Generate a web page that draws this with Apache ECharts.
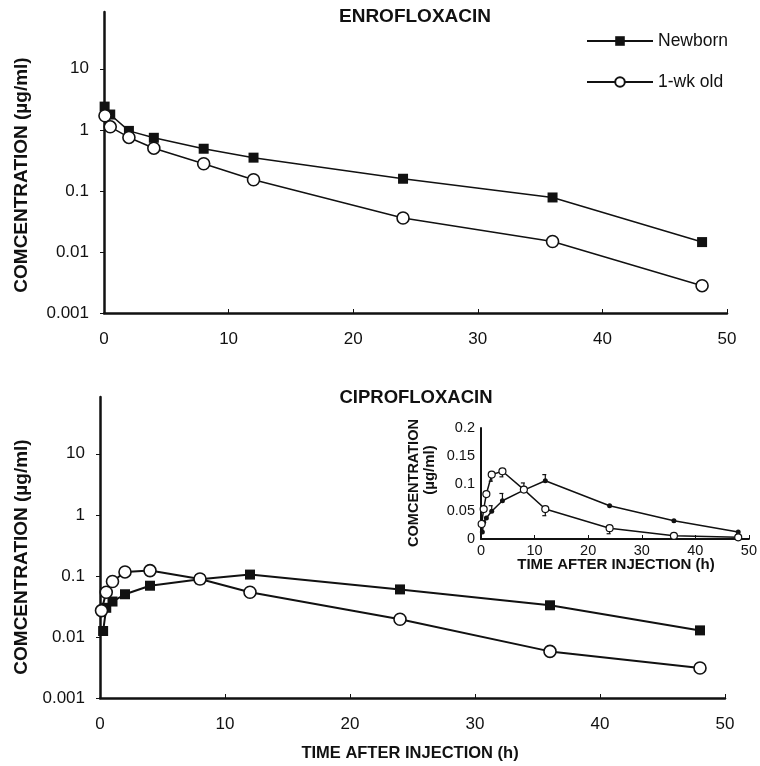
<!DOCTYPE html>
<html>
<head>
<meta charset="utf-8">
<script src="https://cdn.jsdelivr.net/npm/echarts@6/dist/echarts.min.js"></script>
<style>html,body{margin:0;padding:0;background:#fff}#c{width:760px;height:766px}</style>
</head>
<body>
<div id="c"></div>
<script>
// ---- data ----
var enroTimeNewborn = [0.05, 0.5, 2, 4, 8, 12, 24, 36, 48];
var enroNewborn     = [2.4, 1.78, 0.96, 0.74, 0.49, 0.35, 0.158, 0.078, 0.0145];
var enroTimeWeek    = [0.08, 0.5, 2, 4, 8, 12, 24, 36, 48];
var enroWeek        = [1.7, 1.12, 0.75, 0.5, 0.278, 0.152, 0.036, 0.0148, 0.0028];

var ciproTimeNewborn = [0.25, 0.5, 1, 2, 4, 8, 12, 24, 36, 48];
var ciproNewborn     = [0.0125, 0.03, 0.038, 0.05, 0.069, 0.088, 0.105, 0.06, 0.033, 0.0128];
var ciproTimeWeek    = [0.12, 0.5, 1, 2, 4, 8, 12, 24, 36, 48];
var ciproWeek        = [0.027, 0.054, 0.081, 0.116, 0.122, 0.089, 0.054, 0.0195, 0.0058, 0.0031];

// inset error bars (SD): newborn upward, 1-wk downward
var errTimeNewborn = [2, 4, 8, 12];
var errNewborn     = [0.010, 0.013, 0.013, 0.011];
var errTimeWeek    = [2, 4, 12, 24];
var errWeek        = [0.012, 0.010, 0.012, 0.010];

var logTickValues = [0.001, 0.01, 0.1, 1, 10];
var logTicks = ['0.001', '0.01', '0.1', '1', '10'];
var xTicks = [0, 10, 20, 30, 40, 50];
var insetYTicks = ['0', '0.05', '0.1', '0.15', '0.2'];

function zip(a, b) { return a.map(function (v, i) { return [v, b[i]]; }); }

var FONT = '"Liberation Sans", Arial, Helvetica, sans-serif';
var BLACK = '#111';

function logLabel(v) {
  var s = String(Number(Number(v).toPrecision(3)));
  return logTicks.indexOf(s) >= 0 ? s : '';
}

function logY(gi) {
  return {
    type: 'log', logBase: 10, gridIndex: gi, min: 0.001, max: 85,
    axisLine: { show: true, lineStyle: { color: BLACK, width: 2.5 } },
    axisTick: { show: true, length: 4, customValues: logTickValues, lineStyle: { color: BLACK, width: 1 } },
    minorTick: { show: false },
    splitLine: { show: false },
    axisLabel: { customValues: logTickValues, formatter: logLabel, fontFamily: FONT, fontSize: 17, color: BLACK, margin: 15 }
  };
}
function linX(gi, fs, margin) {
  return {
    type: 'value', gridIndex: gi, min: 0, max: 50, interval: 10,
    axisLine: { show: true, onZero: false, lineStyle: { color: BLACK, width: gi === 2 ? 2 : 2.5 } },
    axisTick: { show: true, inside: true, length: 4, lineStyle: { color: BLACK, width: 1 } },
    splitLine: { show: false },
    axisLabel: { fontFamily: FONT, fontSize: fs, color: BLACK, margin: margin,
      formatter: function (v) { return xTicks.indexOf(v) >= 0 ? String(v) : ''; } }
  };
}

function sq(name, xi, data, lw) {
  return { name: name, type: 'line', xAxisIndex: xi, yAxisIndex: xi, data: data,
    symbol: 'rect', symbolSize: 10, itemStyle: { color: BLACK },
    lineStyle: { color: BLACK, width: lw }, z: 3 };
}
function ci(name, xi, data, lw) {
  return { name: name, type: 'line', xAxisIndex: xi, yAxisIndex: xi, data: data,
    symbol: 'circle', symbolSize: 12, itemStyle: { color: '#fff', borderColor: BLACK, borderWidth: 1.6 },
    lineStyle: { color: BLACK, width: lw }, z: 4 };
}

function errSeries(times, errs, dir) {
  var d = times.map(function (t, i) {
    var idx = (dir > 0 ? ciproTimeNewborn : ciproTimeWeek).indexOf(t);
    var base = (dir > 0 ? ciproNewborn : ciproWeek)[idx];
    return [t, base, errs[i]];
  });
  return {
    type: 'custom', xAxisIndex: 2, yAxisIndex: 2, data: d, z: 2, silent: true,
    renderItem: function (params, api) {
      var x = api.value(0), y = api.value(1), e = api.value(2);
      var p0 = api.coord([x, y]);
      var p1 = api.coord([x, y + dir * e]);
      return { type: 'group', children: [
        { type: 'line', shape: { x1: p0[0], y1: p0[1], x2: p1[0], y2: p1[1] }, style: { stroke: BLACK, lineWidth: 1.2 } },
        { type: 'line', shape: { x1: p1[0] - 3, y1: p1[1], x2: p1[0] + 1, y2: p1[1] }, style: { stroke: BLACK, lineWidth: 1.2 } }
      ] };
    }
  };
}

var chart = echarts.init(document.getElementById('c'), null, { renderer: 'canvas' });
var option = {
  animation: false,
  backgroundColor: '#fff',
  grid: [
    { left: 104, top: 12, width: 623, height: 301 },
    { left: 100, top: 397, width: 625, height: 301 },
    { left: 481, top: 428, width: 270, height: 111 }
  ],
  xAxis: [linX(0, 17, 18), linX(1, 17, 18), linX(2, 14.5, 4)],
  yAxis: [logY(0), logY(1), {
    type: 'value', gridIndex: 2, min: 0, max: 0.2, interval: 0.05,
    axisLine: { show: true, lineStyle: { color: BLACK, width: 2 } },
    axisTick: { show: false }, splitLine: { show: false },
    axisLabel: { fontFamily: FONT, fontSize: 14.5, color: BLACK, margin: 6,
      formatter: function (v) { var s = String(Number(v.toPrecision(3))); return insetYTicks.indexOf(s) >= 0 ? s : ''; } }
  }],
  legend: {
    orient: 'vertical', left: 586, top: 32, padding: 0, itemWidth: 66, itemHeight: 12, itemGap: 23,
    textStyle: { fontFamily: FONT, fontSize: 17.5, color: BLACK },
    data: ['Newborn', '1-wk old']
  },
  series: [
    sq('Newborn', 0, zip(enroTimeNewborn, enroNewborn), 1.5),
    ci('1-wk old', 0, zip(enroTimeWeek, enroWeek), 1.5),
    sq('Newborn', 1, zip(ciproTimeNewborn, ciproNewborn), 2),
    ci('1-wk old', 1, zip(ciproTimeWeek, ciproWeek), 2),
    { name: 'inNewborn', type: 'line', xAxisIndex: 2, yAxisIndex: 2, data: zip(ciproTimeNewborn, ciproNewborn),
      symbol: 'circle', symbolSize: 5, itemStyle: { color: BLACK }, lineStyle: { color: BLACK, width: 1.5 }, z: 3 },
    { name: 'inWeek', type: 'line', xAxisIndex: 2, yAxisIndex: 2, data: zip(ciproTimeWeek, ciproWeek),
      symbol: 'circle', symbolSize: 7, itemStyle: { color: '#fff', borderColor: BLACK, borderWidth: 1.2 },
      lineStyle: { color: BLACK, width: 1.5 }, z: 4 },
    errSeries(errTimeNewborn, errNewborn, 1),
    errSeries(errTimeWeek, errWeek, -1)
  ],
  graphic: [
    { type: 'text', x: 415, y: 17, style: { text: 'ENROFLOXACIN', font: 'bold 19px ' + FONT, fill: BLACK, align: 'center', verticalAlign: 'middle' } },
    { type: 'text', x: 416, y: 398, style: { text: 'CIPROFLOXACIN', font: 'bold 18.5px ' + FONT, fill: BLACK, align: 'center', verticalAlign: 'middle' } },
    { type: 'text', x: 22, y: 175, rotation: Math.PI / 2, style: { text: 'COMCENTRATION (\u00b5g/ml)', font: 'bold 19px ' + FONT, fill: BLACK, align: 'center', verticalAlign: 'middle' } },
    { type: 'text', x: 22, y: 557, rotation: Math.PI / 2, style: { text: 'COMCENTRATION (\u00b5g/ml)', font: 'bold 19px ' + FONT, fill: BLACK, align: 'center', verticalAlign: 'middle' } },
    { type: 'text', x: 410, y: 753, style: { text: 'TIME AFTER INJECTION (h)', font: 'bold 16.5px ' + FONT, fill: BLACK, align: 'center', verticalAlign: 'middle' } },
    { type: 'text', x: 414, y: 483, rotation: Math.PI / 2, style: { text: 'COMCENTRATION', font: 'bold 14.5px ' + FONT, fill: BLACK, align: 'center', verticalAlign: 'middle' } },
    { type: 'text', x: 430, y: 470, rotation: Math.PI / 2, style: { text: '(\u00b5g/ml)', font: 'bold 15px ' + FONT, fill: BLACK, align: 'center', verticalAlign: 'middle' } },
    { type: 'text', x: 616, y: 565, style: { text: 'TIME AFTER INJECTION (h)', font: 'bold 15px ' + FONT, fill: BLACK, align: 'center', verticalAlign: 'middle' } }
  ]
};
chart.setOption(option);
</script>
</body>
</html>
